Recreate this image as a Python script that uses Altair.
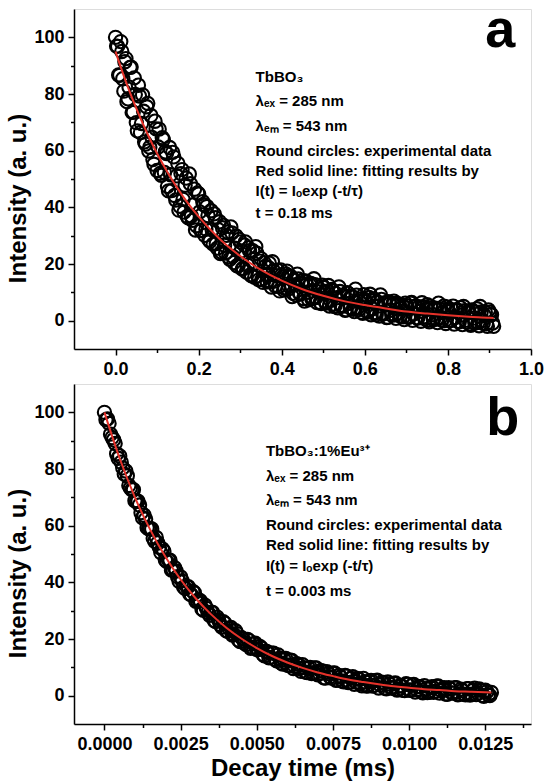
import altair as alt
import pandas as pd

# ---------------- data ----------------
# Panel a (TbBO3): sampling start / interval (ms); two interleaved sample sets
A_T0, A_DT = 0.0, 0.005
A_Y = [
    100.0, 96.8, 86.6, 95.0, 81.0, 92.5, 78.3, 89.4, 73.5, 85.7,
    69.9, 83.1, 66.4, 79.7, 63.1, 75.5, 59.9, 72.4, 56.9, 70.4,
    53.0, 67.6, 51.3, 63.9, 59.6, 47.4, 61.1, 45.9, 57.8, 42.6,
    55.5, 40.4, 53.3, 38.3, 50.3, 36.3, 48.3, 35.4, 46.4, 33.5,
    44.7, 31.8, 42.0, 30.1, 40.3, 28.5, 38.8, 27.0, 36.3, 25.6,
    34.9, 24.2, 33.6, 23.9, 31.3, 21.7, 31.0, 20.5, 29.9, 19.3,
    27.8, 18.2, 26.7, 17.2, 25.7, 16.2, 24.7, 15.3, 23.8, 14.4,
    21.9, 13.5, 19.1, 13.7, 20.3, 11.9, 17.6, 12.2, 17.8, 10.5,
    16.1, 10.8, 16.5, 11.2, 15.8, 8.5, 14.3, 9.0, 14.7, 9.4,
    14.1, 6.9, 12.6, 7.4, 13.1, 7.9, 12.7, 6.4, 11.2, 6.0,
    11.8, 6.6, 10.4, 5.2, 11.0, 5.8, 9.6, 4.5, 10.3, 5.1,
    8.9, 3.8, 9.6, 4.5, 8.3, 3.2, 9.0, 3.9, 7.7, 2.6,
    7.5, 3.3, 8.2, 2.1, 7.0, 2.8, 6.7, 1.6, 7.5, 2.4,
    6.3, 1.2, 6.1, 2.0, 6.9, 0.8, 5.7, 1.6, 5.5, 0.4,
    5.3, 1.2, 6.2, 0.1, 5.0, 1.0, 4.9, -0.2, 4.8, 0.7,
    5.6, -0.4, 4.5, 0.4, 4.4, -0.7, 4.2, 0.2, 5.1, -1.0,
    4.0, 0.0, 3.9, -1.2, 3.7, -0.3, 4.6, -1.4, 3.5, -0.5,
    3.4, -1.6, 3.3, -0.8, 4.2, -1.8, 3.1, -0.9, 3.0, -2.0,
    3.0, 2.1, -2.0,
]
# samples taken half an interval later
A_Y2 = [
    96.9, 86.7, 98.5, 85.4, 91.4, 77.3, 82.4, 89.5, 73.6, 79.8,
    67.0, 79.3, 69.6, 73.9, 62.3, 76.7, 61.2, 64.7, 55.2, 67.7,
    61.3, 52.0, 64.6, 52.3, 59.0, 45.8, 51.5, 59.4, 44.2, 51.1,
    39.0, 51.9, 42.8, 47.8, 36.8, 51.8, 36.9, 40.9, 32.0, 45.1,
    38.4, 31.9, 40.9, 32.3, 37.1, 28.0, 32.1, 37.7, 27.2, 32.1,
    23.7, 32.8, 26.6, 30.1, 22.5, 33.1, 22.7, 25.6, 19.4, 28.7,
    24.6, 18.5, 27.8, 19.6, 24.7, 15.8, 20.2, 26.1, 15.8, 21.0,
    14.5, 20.5, 16.4, 18.8, 13.8, 20.8, 14.0, 15.9, 12.0, 17.9,
    15.4, 11.4, 17.5, 12.1, 15.4, 9.7, 12.7, 16.4, 9.8, 13.1,
    7.8, 14.0, 10.0, 12.6, 7.7, 14.8, 8.2, 10.2, 6.4, 12.5,
    10.1, 6.2, 12.4, 7.2, 10.6, 5.0, 8.1, 11.9, 5.4, 8.8,
    3.7, 9.9, 6.1, 8.7, 4.0, 11.1, 4.6, 6.7, 3.0, 9.2,
    6.8, 3.0, 9.3, 4.2, 7.6, 2.1, 5.2, 9.1, 2.7, 6.2,
    1.1, 6.7, 3.7, 5.8, 2.1, 6.2, 2.6, 4.3, 1.4, 6.2,
    4.4, 1.4, 6.4, 2.4, 5.1, 0.9, 3.3, 6.3, 1.4, 4.1,
    0.1, 5.1, 2.1, 4.2, 0.6, 6.2, 1.1, 2.9, 0.0, 4.8,
    3.1, 0.1, 5.1, 1.1, 3.8, -0.4, 2.0, 5.0, 0.1, 2.8,
    -1.1, 3.8, 0.9, 3.0, -0.6, 5.0, 0.0, 1.8, -1.1, 3.8,
    2.1, -0.8,
]
A_FIT_T = [0, 0.025, 0.05, 0.075, 0.1, 0.125, 0.15, 0.175, 0.2, 0.25, 0.3, 0.35,
           0.4, 0.45, 0.5, 0.55, 0.6, 0.65, 0.7, 0.75, 0.8, 0.85, 0.9, 0.91]
A_FIT_Y = [95.0, 84.3, 74.9, 66.5, 59.0, 52.4, 46.5, 41.3, 36.7, 28.9, 22.8, 17.9,
           14.1, 11.1, 8.8, 6.9, 5.5, 4.3, 3.2, 2.5, 1.9, 1.4, 1.0, 0.9]

# Panel b (TbBO3:1%Eu3+)
B_T0, B_DT = 0.0, 0.0001
B_Y = [
    100.0, 97.7, 92.3, 90.3, 85.4, 84.6, 80.4, 79.3, 74.2, 72.7,
    68.8, 68.6, 64.6, 63.7, 59.3, 59.0, 55.6, 55.8, 52.4, 51.8,
    47.9, 47.9, 44.3, 45.2, 42.0, 41.9, 38.3, 38.5, 35.9, 36.8,
    33.3, 33.8, 30.6, 31.9, 29.3, 29.5, 26.5, 27.7, 25.1, 26.1,
    22.9, 23.7, 21.4, 22.9, 19.6, 20.5, 18.6, 19.8, 16.7, 18.3,
    16.3, 17.4, 14.6, 15.7, 13.4, 15.0, 12.8, 14.4, 11.5, 12.6,
    10.8, 12.5, 9.6, 11.3, 9.6, 10.9, 8.3, 9.6, 7.8, 9.8,
    7.4, 8.8, 6.3, 8.5, 6.7, 7.9, 5.4, 7.1, 5.2, 7.1,
    4.6, 6.1, 4.0, 6.1, 4.3, 6.1, 3.4, 5.0, 3.4, 5.3,
    2.7, 4.7, 2.7, 4.8, 2.9, 4.3, 2.0, 3.5, 1.9, 4.2,
    2.0, 3.7, 1.3, 3.2, 1.4, 3.5, 1.1, 2.8, 1.2, 3.3,
    0.9, 2.4, 0.6, 2.8, 1.0, 2.8, 0.3, 2.3, 0.5, 2.5,
    0.2, 1.9, 0.4, 2.4, 0.1, 1.9, 0.3, 1.1,
]
B_Y2 = [
    97.4, 96.1, 91.1, 89.0, 83.8, 82.4, 78.2, 77.6, 73.3, 72.7,
    68.6, 67.3, 62.8, 62.3, 58.9, 58.8, 54.5, 53.9, 50.5, 51.0,
    47.3, 47.8, 44.4, 44.0, 40.4, 40.5, 37.8, 38.5, 35.6, 36.3,
    33.5, 33.4, 30.1, 30.8, 28.4, 29.4, 26.2, 26.6, 24.2, 25.6,
    22.7, 24.1, 21.6, 21.9, 19.1, 20.0, 18.0, 19.4, 17.1, 18.5,
    16.3, 16.8, 14.1, 15.4, 13.5, 15.0, 12.3, 13.2, 11.2, 13.1,
    10.6, 12.4, 10.3, 11.1, 8.6, 9.9, 8.2, 10.0, 8.1, 9.8,
    7.9, 8.7, 6.2, 7.8, 6.2, 8.0, 5.5, 6.6, 4.9, 6.9,
    4.7, 6.7, 4.8, 5.8, 3.5, 4.9, 3.5, 5.4, 3.7, 5.5,
    3.8, 4.7, 2.4, 4.1, 2.6, 4.5, 2.2, 3.4, 1.8, 4.0,
    1.9, 4.0, 2.2, 3.2, 1.0, 2.5, 1.2, 3.2, 1.5, 3.4,
    1.8, 2.8, 0.5, 2.3, 0.9, 2.8, 0.6, 1.8, 0.3, 2.5,
    0.5, 2.6, 0.9, 1.9, -0.2, 1.4, 0.0,
]
B_FIT_T = [0, 0.0005, 0.001, 0.0015, 0.002, 0.0025, 0.003, 0.0035, 0.004, 0.0045,
           0.005, 0.0055, 0.006, 0.0065, 0.007, 0.0075, 0.008, 0.0085, 0.009,
           0.0095, 0.01, 0.0105, 0.011, 0.0115, 0.012, 0.0125, 0.0127]
B_FIT_Y = [100.0, 83.7, 70.0, 58.6, 49.0, 41.0, 34.3, 28.7, 24.0, 20.1,
           16.8, 14.0, 11.7, 9.8, 8.2, 6.9, 5.7, 4.8, 4.0,
           3.3, 2.8, 2.3, 2.0, 1.6, 1.4, 1.2, 1.1]

A_NOTES = ["TbBO₃", "λₑₓ = 285 nm", "λₑₘ = 543 nm",
           "Round circles: experimental data", "Red solid line: fitting results by",
           "I(t) = Iₒexp (-t/τ)", "t = 0.18 ms"]
B_NOTES = ["TbBO₃:1%Eu³⁺", "λₑₓ = 285 nm", "λₑₘ = 543 nm",
           "Round circles: experimental data", "Red solid line: fitting results by",
           "I(t) = Iₒexp (-t/τ)", "t = 0.003 ms"]
A_NOTE_X, A_NOTE_Y = 0.337, [86.1, 77.5, 68.7, 59.9, 52.9, 45.6, 38.0]
B_NOTE_X, B_NOTE_Y = 0.0053, [86.2, 77.7, 69.2, 60.4, 53.3, 45.6, 36.8]
A_LETTER, A_LETTER_X, A_LETTER_Y = "a", 0.926, 96.5
B_LETTER, B_LETTER_X, B_LETTER_Y = "b", 0.01307, 92.1

A_XDOM = [-0.1, 1.0]
A_XTICKS = [0, 0.2, 0.4, 0.6, 0.8, 1.0]
A_XMINOR = [0.1, 0.3, 0.5, 0.7, 0.9]
B_XDOM = [-0.001, 0.014]
B_XTICKS = [0, 0.0025, 0.005, 0.0075, 0.01, 0.0125]
B_XMINOR = [0.00125, 0.00375, 0.00625, 0.00875, 0.01125, 0.01375]
YDOM = [-10, 110]
YTICKS = [0, 20, 40, 60, 80, 100]
YMINOR = [10, 30, 50, 70, 90]

FONT = "Liberation Sans"
W, H = 457, 340
RED = "#e5322a"


def samples(t0, dt, ys, ys2):
    t1 = [round(t0 + i * dt, 7) for i in range(len(ys))]
    t2 = [round(t0 + (i + 0.5) * dt, 7) for i in range(len(ys2))]
    df = pd.DataFrame({"t": t1 + t2, "y": ys + ys2})
    return df.sort_values("t", kind="stable").reset_index(drop=True)


def panel(pts, fit_t, fit_y, notes, note_x, note_y, letter, lx, ly,
          xdom, xticks, xminor, xfmt, xtitle):
    fit = pd.DataFrame({"t": fit_t, "y": fit_y})
    nt = pd.DataFrame({"t": [note_x] * len(notes), "y": note_y, "label": notes})
    lt = pd.DataFrame({"t": [lx], "y": [ly], "label": [letter]})
    xs = alt.Scale(domain=xdom, nice=False, zero=False)
    ysc = alt.Scale(domain=YDOM, nice=False, zero=False)

    common = dict(grid=False, tickColor="black", tickWidth=1.5, domainColor="black",
                  domainWidth=1.5, labelFont=FONT, labelFontSize=18, labelFontWeight="bold",
                  labelColor="black", labelFlush=False, labelOverlap=False,
                  titleFont=FONT, titleFontSize=24, titleFontWeight="bold", titleColor="black")
    xaxis = alt.Axis(values=xticks, format=xfmt, title=xtitle, orient="bottom",
                     tickSize=6, labelPadding=5, titlePadding=3, **common)
    yaxis = alt.Axis(values=YTICKS, format="d", title="Intensity (a. u.)", orient="left",
                     tickSize=6, labelPadding=4, titlePadding=3, titleY=189, **common)
    minor = dict(grid=False, labels=False, domain=False, title=None, tickSize=3.5,
                 tickWidth=1.5, tickColor="black")

    p = alt.Chart(pts).mark_point(shape="circle", filled=False, stroke="black",
                                  strokeWidth=2.1, size=177, opacity=1).encode(
        x=alt.X("t:Q", scale=xs, axis=xaxis),
        y=alt.Y("y:Q", scale=ysc, axis=yaxis),
    )
    f = alt.Chart(fit).mark_line(color=RED, strokeWidth=2, interpolate="monotone").encode(
        x=alt.X("t:Q", scale=xs, axis=None),
        y=alt.Y("y:Q", scale=ysc, axis=None),
    )
    n = alt.Chart(nt).mark_text(align="left", baseline="middle", font=FONT, fontSize=15,
                                fontWeight="bold", color="black").encode(
        x=alt.X("t:Q", scale=xs, axis=None),
        y=alt.Y("y:Q", scale=ysc, axis=None),
        text="label:N",
    )
    l = alt.Chart(lt).mark_text(align="center", baseline="alphabetic", font=FONT, fontSize=54,
                                fontWeight="bold", color="black").encode(
        x=alt.X("t:Q", scale=xs, axis=None),
        y=alt.Y("y:Q", scale=ysc, axis=None),
        text="label:N",
    )
    m = alt.Chart(fit).mark_point(opacity=0).encode(
        x=alt.X("t:Q", scale=xs, axis=alt.Axis(values=xminor, orient="bottom", **minor)),
        y=alt.Y("y:Q", scale=ysc, axis=alt.Axis(values=YMINOR, orient="left", **minor)),
    )
    return alt.layer(p, f, n, l, m).resolve_axis(x="independent", y="independent").properties(
        width=W, height=H)


pa = panel(samples(A_T0, A_DT, A_Y, A_Y2), A_FIT_T, A_FIT_Y, A_NOTES, A_NOTE_X, A_NOTE_Y,
           A_LETTER, A_LETTER_X, A_LETTER_Y, A_XDOM, A_XTICKS, A_XMINOR, ".1f", None)
pb = panel(samples(B_T0, B_DT, B_Y, B_Y2), B_FIT_T, B_FIT_Y, B_NOTES, B_NOTE_X, B_NOTE_Y,
           B_LETTER, B_LETTER_X, B_LETTER_Y, B_XDOM, B_XTICKS, B_XMINOR, ".4f",
           "Decay time (ms)")

chart = alt.vconcat(pa, pb, spacing=4,
                    padding={"left": 6, "top": 3, "right": 0, "bottom": 0}).configure_view(
    stroke="black", strokeWidth=1.5).configure(background="white")

chart.save("out.html", embed_options={"renderer": "svg", "actions": False})
